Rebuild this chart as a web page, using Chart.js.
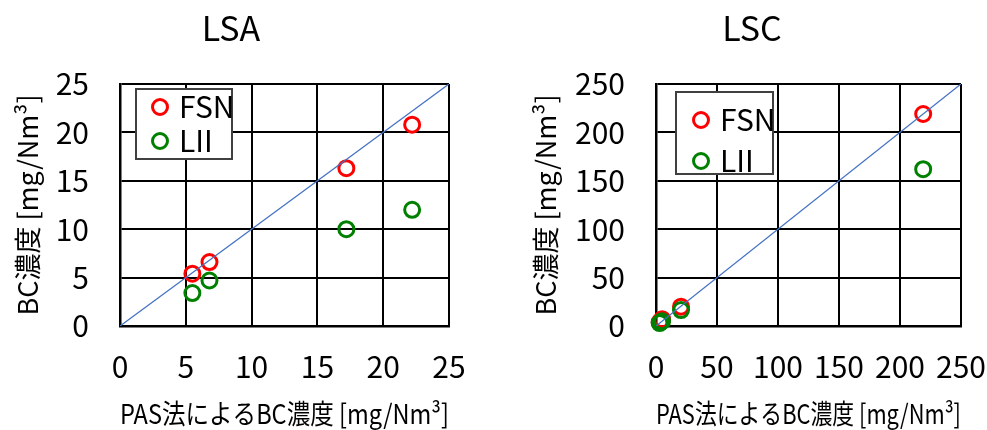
<!DOCTYPE html>
<html lang="ja">
<head>
<meta charset="UTF-8">
<title>LSA / LSC BC濃度</title>
<script src="https://cdn.jsdelivr.net/npm/chart.js"></script>
<style>
  body { margin: 0; background: #fff; overflow: hidden; }
  .wrap { position: relative; width: 987px; height: 430px; overflow: hidden; }
  .box { position: absolute; top: 0; height: 430px; }
  #boxA { left: -6px; width: 474px; }
  #boxC { left: 517px; width: 470px; }
</style>
</head>
<body>
<div class="wrap">
  <div class="box" id="boxA"><canvas id="lsa"></canvas></div>
  <div class="box" id="boxC"><canvas id="lsc"></canvas></div>
</div>
<script>
const FONT = '"Noto Sans CJK JP", "Noto Sans", sans-serif';

// LSA
const lsaFsnX = [5.5, 6.8, 17.2, 22.2];
const lsaFsnY = [5.4, 6.6, 16.3, 20.8];
const lsaLiiX = [5.5, 6.8, 17.2, 22.2];
const lsaLiiY = [3.4, 4.7, 10.0, 12.0];
const lsaLine = [0, 25];

// LSC
const lscFsnX = [3, 5, 20.5, 219];
const lscFsnY = [4, 7, 20, 219];
const lscLiiX = [3, 5, 20.5, 219];
const lscLiiY = [3, 5, 16.5, 162];
const lscLine = [0, 250];

const yTitle = 'BC濃度 [mg/Nm³]';
const xTitle = 'PAS法によるBC濃度 [mg/Nm³]';

const pts = (xs, ys) => xs.map((x, i) => ({ x: x, y: ys[i] }));

// legend box drawn inside the plot area
const boxLegend = {
  id: 'boxLegend',
  afterDatasetsDraw(chart, args, o) {
    const { ctx, chartArea: a } = chart;
    const x = a.left + o.dx, y = a.top + o.dy;
    ctx.save();
    ctx.fillStyle = '#fff';
    ctx.fillRect(x, y, o.w, o.h);
    ctx.strokeStyle = '#404040';
    ctx.lineWidth = 2;
    ctx.strokeRect(x, y, o.w, o.h);
    chart.data.datasets.filter(d => d.label).forEach((d, i) => {
      const cy = y + o.rows[i];
      ctx.beginPath();
      ctx.arc(x + o.markX, cy, 7.5, 0, Math.PI * 2);
      ctx.strokeStyle = d.borderColor;
      ctx.lineWidth = 3;
      ctx.stroke();
      ctx.fillStyle = '#000';
      ctx.font = '30px ' + FONT;
      ctx.textBaseline = 'middle';
      ctx.fillText(d.label, x + o.textX, cy);
    });
    ctx.restore();
  }
};

function makeChart(id, title, fsn, lii, line, max, step, yWidth, padR, yTitlePad, legend) {
  return new Chart(document.getElementById(id), {
    type: 'scatter',
    data: {
      datasets: [
        { type: 'line', data: pts(line, line), borderColor: '#4472C4', borderWidth: 1.3,
          pointRadius: 0, order: 0 },
        { label: 'FSN', data: fsn, borderColor: '#FF0000', backgroundColor: 'rgba(0,0,0,0)',
          pointRadius: 7.5, pointBorderWidth: 3, order: 2, clip: false },
        { label: 'LII', data: lii, borderColor: '#008000', backgroundColor: 'rgba(0,0,0,0)',
          pointRadius: 7.5, pointBorderWidth: 3, order: 1, clip: false }
      ]
    },
    options: {
      responsive: true,
      maintainAspectRatio: false,
      animation: false,
      layout: { padding: 0 },
      plugins: {
        legend: { display: false },
        tooltip: { enabled: false },
        title: {
          display: true, text: title, color: '#000',
          font: { family: FONT, size: 34, weight: 'normal', lineHeight: 1.2 },
          padding: { top: 7.6, bottom: 35.6 }
        },
        boxLegend: legend
      },
      scales: {
        x: {
          type: 'linear', min: 0, max: max,
          ticks: { stepSize: step, color: '#000', padding: 23, font: { family: FONT, size: 30 } },
          grid: { color: '#000', lineWidth: 2, drawTicks: false },
          border: { color: '#000', width: 2.5 },
          title: { display: true, text: xTitle, color: '#000',
                   font: { family: FONT, size: 27 }, padding: { top: 0, bottom: 0 } },
          afterFit: s => { s.height = 104; s.paddingRight = padR; s.paddingLeft = 0; }
        },
        y: {
          type: 'linear', min: 0, max: max,
          ticks: { stepSize: step, color: '#000', padding: 31, font: { family: FONT, size: 30 } },
          grid: { color: '#000', lineWidth: 2, drawTicks: false },
          border: { color: '#000', width: 2.5 },
          title: { display: true, text: yTitle, color: '#000',
                   font: { family: FONT, size: 27 }, padding: { top: yTitlePad, bottom: 0 } },
          afterFit: s => { s.width = yWidth; s.paddingTop = 0; s.paddingBottom = 0; }
        }
      }
    },
    plugins: [boxLegend]
  });
}

makeChart('lsa', 'LSA', pts(lsaFsnX, lsaFsnY), pts(lsaLiiX, lsaLiiY), lsaLine, 25, 5, 126, 19, 17.8,
  { dx: 16, dy: 5, w: 96, h: 70, markX: 24, textX: 43, rows: [18, 52] });
makeChart('lsc', 'LSC', pts(lscFsnX, lscFsnY), pts(lscLiiX, lscLiiY), lscLine, 250, 50, 139, 26, 12.8,
  { dx: 20, dy: 8, w: 97, h: 82, markX: 25, textX: 44, rows: [28, 69] });
</script>
</body>
</html>
